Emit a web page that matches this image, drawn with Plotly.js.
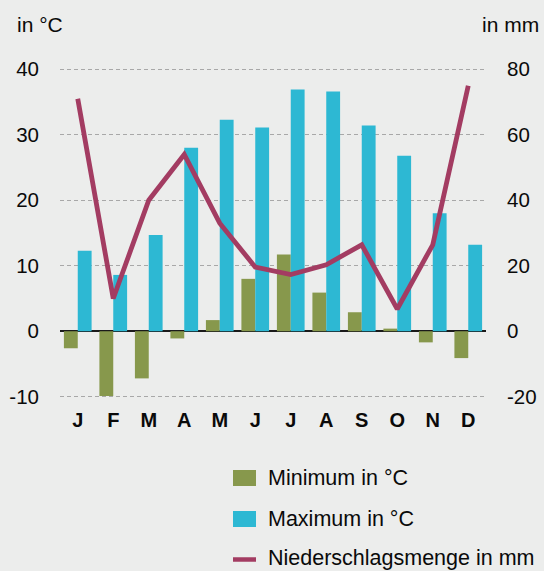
<!DOCTYPE html>
<html>
<head>
<meta charset="utf-8">
<script src="https://cdn.plot.ly/plotly-3.0.1.min.js"></script>
<style>html,body{margin:0;padding:0;background:#ecedec;}#chart{width:544px;height:571px;}</style>
</head>
<body>
<div id="chart"></div>
<script>
const months = ["Jan","Feb","Mar","Apr","May","Jun","Jul","Aug","Sep","Oct","Nov","Dec"];
const monthLabels = ["J","F","M","A","M","J","J","A","S","O","N","D"];
const tempMin = [-2.6, -9.9, -7.2, -1.1, 1.7, 8.0, 11.7, 5.9, 2.9, 0.4, -1.7, -4.1];
const tempMax = [12.3, 8.6, 14.7, 28.0, 32.3, 31.1, 36.9, 36.6, 31.4, 26.8, 18.0, 13.2];
const precip = [71, 10, 40, 54, 33, 19.6, 17.3, 20.3, 26.4, 6.8, 26.4, 75];
const tempTicks = [-10, 0, 10, 20, 30, 40];
const tempTickLabels = ["-10", "0", "10", "20", "30", "40"];
const precipTicks = [-20, 0, 20, 40, 60, 80];
const precipTickLabels = ["-20", "0", "20", "40", "60", "80"];

const names = ["Minimum in °C", "Maximum in °C", "Niederschlagsmenge in mm"];
const colors = ["#87984c", "#2db8d3", "#a33c62"];

const W = 544, H = 571;
const L = 60, R = 486, T = 66, B = 400;
const px = x => (x - L) / (R - L);
const py = y => (B - y) / (B - T);

const font = "Liberation Sans, Arial, Helvetica, sans-serif";
const ink = "#0a0a0a";

const traces = [
  {type: "bar", x: months, y: tempMin, name: names[0], marker: {color: colors[0]}, yaxis: "y"},
  {type: "bar", x: months, y: tempMax, name: names[1], marker: {color: colors[1]}, yaxis: "y"},
  {type: "scatter", mode: "lines", x: months, y: precip, name: names[2], yaxis: "y2",
   line: {color: colors[2], width: 4.8}}
];

const shapes = [
  {type: "rect", xref: "paper", yref: "paper", x0: px(233), x1: px(256), y0: py(486), y1: py(470), fillcolor: colors[0], line: {width: 0}},
  {type: "rect", xref: "paper", yref: "paper", x0: px(233), x1: px(256), y0: py(527), y1: py(511), fillcolor: colors[1], line: {width: 0}},
  {type: "line", xref: "paper", yref: "paper", x0: px(233), x1: px(256), y0: py(559.5), y1: py(559.5), line: {color: colors[2], width: 4.5}}
];

const annotations = [
  {text: "in °C", xref: "paper", yref: "paper", x: px(15), y: py(24), xanchor: "left", yanchor: "middle", showarrow: false, font: {family: font, size: 21, color: ink}},
  {text: "in mm", xref: "paper", yref: "paper", x: px(541), y: py(24), xanchor: "right", yanchor: "middle", showarrow: false, font: {family: font, size: 21, color: ink}},
  {text: names[0], xref: "paper", yref: "paper", x: px(266), y: py(478), xanchor: "left", yanchor: "middle", showarrow: false, font: {family: font, size: 21.5, color: ink}},
  {text: names[1], xref: "paper", yref: "paper", x: px(266), y: py(519), xanchor: "left", yanchor: "middle", showarrow: false, font: {family: font, size: 21.5, color: ink}},
  {text: names[2], xref: "paper", yref: "paper", x: px(266), y: py(557.5), xanchor: "left", yanchor: "middle", showarrow: false, font: {family: font, size: 21.5, color: ink}}
];

const layout = {
  width: W, height: H,
  margin: {l: L, r: W - R, t: T, b: H - B, pad: 0},
  paper_bgcolor: "#ecedec",
  plot_bgcolor: "#ecedec",
  showlegend: false,
  hovermode: false,
  barmode: "group",
  bargap: 0.22,
  bargroupgap: 0,
  font: {family: font, size: 20, color: ink},
  xaxis: {
    type: "category",
    range: [-0.5, 11.5],
    tickvals: months,
    ticktext: monthLabels,
    ticks: "",
    showgrid: false,
    showline: false,
    zeroline: false,
    tickfont: {family: font, size: 20, color: ink, weight: "bold"},
    ticklabelstandoff: 6,
    fixedrange: true
  },
  yaxis: {
    range: [-10.5, 40.5],
    tickvals: tempTicks,
    ticktext: tempTickLabels,
    ticks: "",
    showline: false,
    showgrid: true,
    gridcolor: "#a8a8a8",
    griddash: "4px,3px",
    gridwidth: 1,
    zeroline: true,
    zerolinecolor: "#1a1a1a",
    zerolinewidth: 1.5,
    ticklabelstandoff: 20,
    tickfont: {family: font, size: 20.5, color: ink},
    fixedrange: true
  },
  yaxis2: {
    range: [-21, 81],
    tickvals: precipTicks,
    ticktext: precipTickLabels,
    overlaying: "y",
    side: "right",
    ticks: "",
    showline: false,
    showgrid: false,
    zeroline: false,
    ticklabelstandoff: 20,
    tickfont: {family: font, size: 20.5, color: ink},
    fixedrange: true
  },
  shapes: shapes,
  annotations: annotations
};

Plotly.newPlot("chart", traces, layout, {displayModeBar: false, staticPlot: true});
</script>
</body>
</html>
